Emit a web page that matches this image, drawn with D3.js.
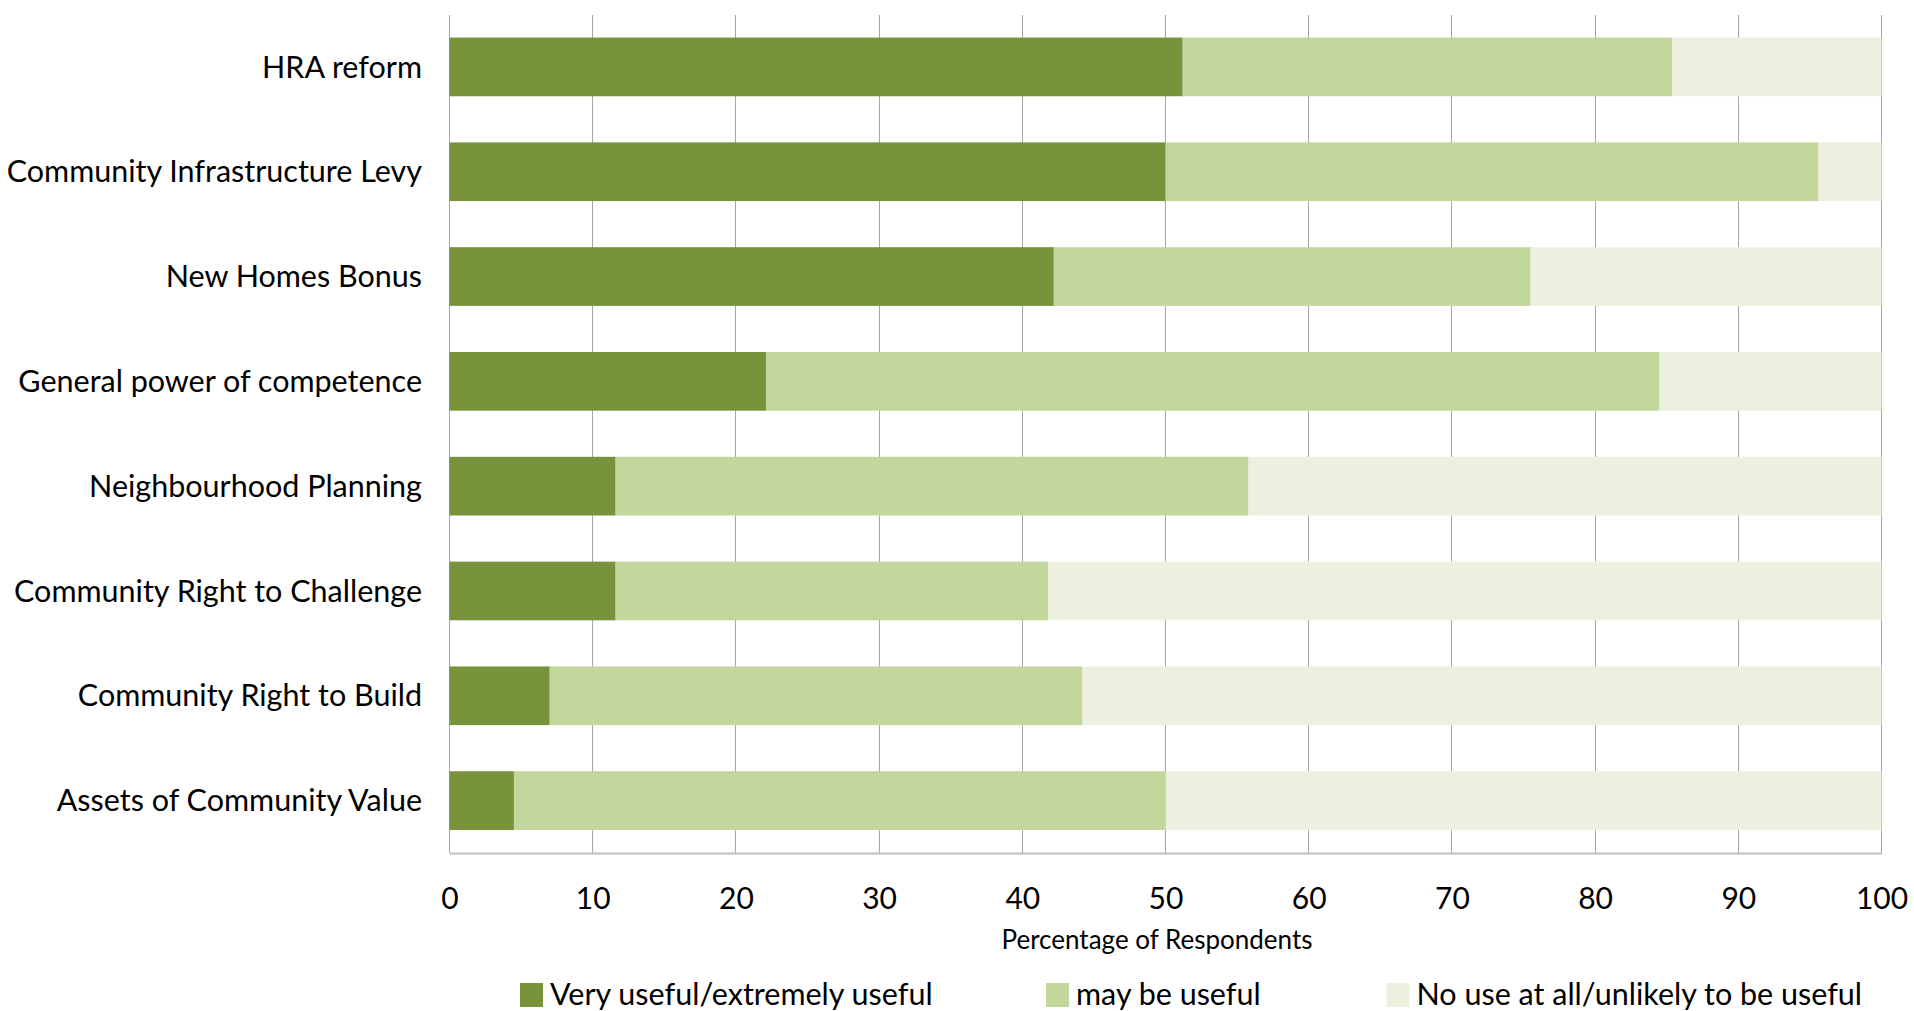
<!DOCTYPE html>
<html>
<head>
<meta charset="utf-8">
<script src="https://cdn.jsdelivr.net/npm/d3@7"></script>
<style>
  html, body { margin: 0; padding: 0; background: #fff; }
  svg { display: block; font-family: Lato, "Open Sans", sans-serif; }
</style>
</head>
<body>
<svg id="chart" width="1914" height="1011"></svg>
<script>
// Survey: usefulness of localism measures (percentage of respondents)
const categories = [
  "HRA reform",
  "Community Infrastructure Levy",
  "New Homes Bonus",
  "General power of competence",
  "Neighbourhood Planning",
  "Community Right to Challenge",
  "Community Right to Build",
  "Assets of Community Value"
];
const veryUseful  = [51.2, 50.0, 42.2, 22.1, 11.6, 11.6, 7.0, 4.5];
const mayBeUseful = [34.2, 45.6, 33.3, 62.4, 44.2, 30.2, 37.2, 45.5];
const noUse       = [14.6,  4.4, 24.5, 15.5, 44.2, 58.2, 55.8, 50.0];
const seriesNames = ["Very useful/extremely useful", "may be useful", "No use at all/unlikely to be useful"];
const seriesColors = ["#77933c", "#c3d69b", "#ebf1de"];
const xTicks = [0, 10, 20, 30, 40, 50, 60, 70, 80, 90, 100];
const xTitle = "Percentage of Respondents";

const svg = d3.select("#chart");
const plot = { left: 449.5, right: 1881.5, top: 14.5, bottom: 853 };

const rows = categories.map((c, i) => ({
  category: c,
  [seriesNames[0]]: veryUseful[i],
  [seriesNames[1]]: mayBeUseful[i],
  [seriesNames[2]]: noUse[i]
}));
const stacked = d3.stack().keys(seriesNames)(rows);

const x = d3.scaleLinear().domain([0, 100]).range([plot.left, plot.right]);
const y = d3.scaleBand().domain(categories).range([plot.top, plot.bottom])
  .paddingInner(0.44).paddingOuter(0.22);
const color = d3.scaleOrdinal().domain(seriesNames).range(seriesColors);

// vertical gridlines
svg.append("g")
  .selectAll("line")
  .data(xTicks)
  .join("line")
  .attr("x1", d => x(d)).attr("x2", d => x(d))
  .attr("y1", plot.top).attr("y2", plot.bottom)
  .attr("stroke", "#a6a6a6")
  .attr("stroke-width", 1)
  .attr("shape-rendering", "crispEdges");

// stacked bars
svg.append("g")
  .selectAll("g")
  .data(stacked)
  .join("g")
  .attr("fill", d => color(d.key))
  .selectAll("rect")
  .data(d => d)
  .join("rect")
  .attr("x", d => x(d[0]))
  .attr("width", d => x(d[1]) - x(d[0]))
  .attr("y", d => y(d.data.category))
  .attr("height", y.bandwidth());

// bottom axis
const xAxis = d3.axisBottom(x).tickValues(xTicks).tickSize(0).tickPadding(0).tickFormat(d3.format("d"));
const gx = svg.append("g").attr("transform", `translate(0,${plot.bottom})`).call(xAxis);
gx.select(".domain").attr("stroke", "#bfbfbf").attr("stroke-width", 2);
gx.selectAll("text")
  .attr("y", 56)
  .attr("dy", 0)
  .attr("fill", "#000")
  .style("font-size", "30px")
  .style("font-family", "Lato, sans-serif");

// category labels
const yAxis = d3.axisLeft(y).tickSize(0).tickPadding(0);
const gy = svg.append("g").attr("transform", "translate(422,0)").call(yAxis);
gy.select(".domain").remove();
gy.selectAll("text")
  .attr("fill", "#000")
  .attr("dy", "0.35em")
  .style("font-size", "30.5px")
  .style("font-family", "Lato, sans-serif");

// axis title
svg.append("text")
  .attr("x", 1157)
  .attr("y", 949)
  .attr("text-anchor", "middle")
  .attr("fill", "#000")
  .style("font-size", "26px")
  .text(xTitle);

// legend
const legendX = [520, 1046, 1386.5];
const legend = svg.append("g")
  .selectAll("g")
  .data(seriesNames)
  .join("g")
  .attr("transform", (d, i) => `translate(${legendX[i]},983)`);
legend.append("rect")
  .attr("width", 23).attr("height", 24)
  .attr("fill", d => color(d));
legend.append("text")
  .attr("x", 30).attr("y", 22)
  .attr("fill", "#000")
  .style("font-size", "30.5px")
  .text(d => d);
</script>
</body>
</html>
